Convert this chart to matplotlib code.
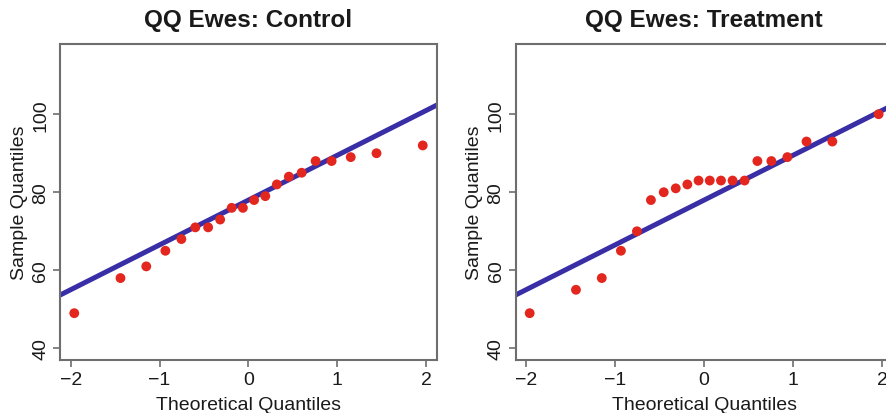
import numpy as np
import matplotlib
matplotlib.use("Agg")
import matplotlib.pyplot as plt

plt.rcParams['font.family'] = ['Liberation Sans', 'DejaVu Sans']

# Theoretical normal quantiles for n = 20 (ppoints)
theoretical = [-1.960, -1.440, -1.150, -0.935, -0.755, -0.598, -0.454, -0.319, -0.189, -0.063,
               0.063, 0.189, 0.319, 0.454, 0.598, 0.755, 0.935, 1.150, 1.440, 1.960]
control = [49, 58, 61, 65, 68, 71, 71, 73, 76, 76, 78, 79, 82, 84, 85, 88, 88, 89, 90, 92]
treatment = [49, 55, 58, 65, 70, 78, 80, 81, 82, 83, 83, 83, 83, 83, 88, 88, 89, 93, 93, 100]
titles = ["QQ Ewes: Control", "QQ Ewes: Treatment"]
xticks = [-2, -1, 0, 1, 2]
yticks = [40, 60, 80, 100]

# reference line (qqline of control group), shown on both panels
q1, q3 = np.quantile(control, [0.25, 0.75])
z = 0.6744898
slope = (q3 - q1) / (2 * z)
intercept = (q1 + q3) / 2

W, H = 887, 414
fig = plt.figure(figsize=(W / 100, H / 100), dpi=100)

boxes = [(60.3, 436.7), (515.7, 892.6)]
top, bottom = 45, 361

red = '#E3261E'
blue = '#3A2EA6'
gray = '#6e6e6e'

for (l, r), title, data in zip(boxes, titles, [control, treatment]):
    ax = fig.add_axes([l / W, (H - bottom) / H, (r - l) / W, (bottom - top) / H])
    ax.axline((0, intercept), slope=slope, color=blue, lw=3.6, zorder=2)
    ax.scatter(theoretical, data, s=50, color=red, edgecolors='none', zorder=3)
    ax.set_xlim(-2.117, 2.117)
    ax.set_ylim(37, 118)
    ax.set_xticks(xticks)
    ax.set_xticklabels(['\u22122', '\u22121', '0', '1', '2'])
    ax.set_yticks(yticks)
    ax.set_yticklabels([str(v) for v in yticks], rotation=90, va='center')
    for s in ax.spines.values():
        s.set_color(gray)
        s.set_linewidth(1.5)
    ax.tick_params(axis='both', length=5, width=1.2, color=gray, labelsize=14,
                   labelcolor='#1a1a1a', pad=3)
    ax.set_xlabel("Theoretical Quantiles", fontsize=14, color='#1a1a1a', labelpad=6)
    ax.set_ylabel("Sample Quantiles", fontsize=14, color='#1a1a1a', labelpad=3)
    ax.set_title(title, fontsize=17.5, fontweight='bold', color='#1a1a1a', pad=13)

fig.savefig("out.png", dpi=100)
